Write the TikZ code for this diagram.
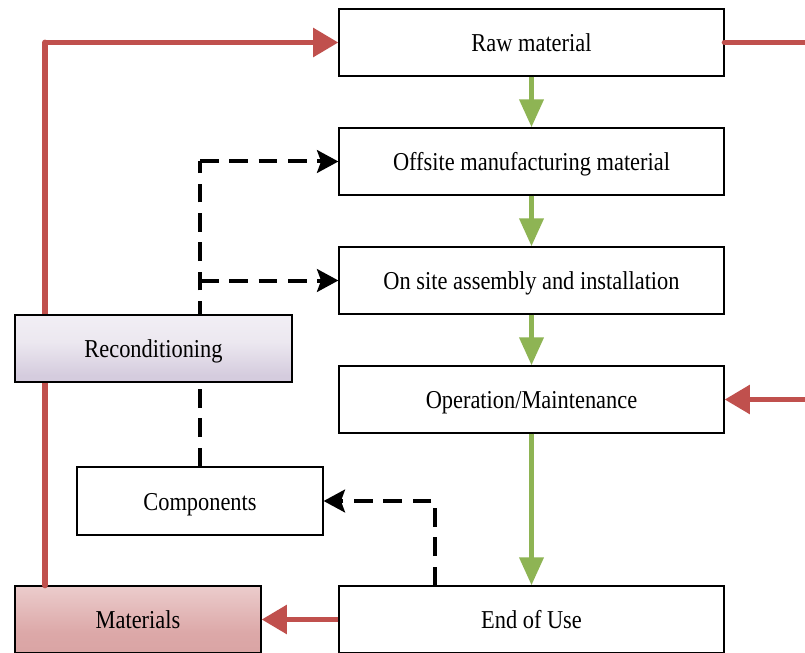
\documentclass[tikz,border=0pt]{standalone}
\usepackage{fontspec}
\setmainfont{Liberation Serif}
\usetikzlibrary{arrows.meta,calc}
\definecolor{redline}{RGB}{192,80,77}
\definecolor{greenline}{RGB}{142,180,84}
\definecolor{recA}{RGB}{236,232,240}
\definecolor{recB}{RGB}{213,204,222}
\definecolor{recC}{RGB}{236,232,240}
\definecolor{recD}{RGB}{248,246,250}
\definecolor{matA}{RGB}{214,158,158}
\definecolor{matB}{RGB}{220,168,168}
\definecolor{matC}{RGB}{246,230,230}
\pgfdeclareverticalshading{recshade}{100bp}{color(0bp)=(recA); color(18bp)=(recB); color(30bp)=(recB); color(55bp)=(recC); color(100bp)=(recD)}
\pgfdeclareverticalshading{matshade}{100bp}{color(0bp)=(matA); color(40bp)=(matB); color(100bp)=(matC)}
\newcommand{\stretchtxt}[1]{\scalebox{1}[1.15]{#1}}
\tikzset{
  box/.style={draw=black, line width=0.9pt, fill=white, inner sep=0pt, text height=14.2pt, text depth=0pt, font=\fontsize{16.8}{20}\selectfont},
  bigbox/.style={box, minimum width=288.75pt, minimum height=50.25pt},
  redarrow/.style={draw=redline, line width=4.4pt, -{Triangle[length=19pt,width=21pt]}},
  redline/.style={draw=redline, line width=4.4pt, line cap=round},
  greenarrow/.style={draw=greenline, line width=4.2pt, -{Triangle[length=21pt,width=17.5pt]}},
  dasharrow/.style={draw=black, line width=3pt, dash pattern=on 14pt off 8pt, -{Stealth[length=16pt,width=17pt,inset=3pt]}},
  dashline/.style={draw=black, line width=3pt, dash pattern=on 14pt off 8pt}
}
\begin{document}
\begin{tikzpicture}[x=0.75pt,y=-0.75pt]
\useasboundingbox (0,0) rectangle (805,652);
\fill[white] (0,0) rectangle (805,652);
% coordinates
\coordinate (rtop) at (805,42.5);
\coordinate (rmid) at (805,399.5);
% main boxes
\node[bigbox] (raw) at (531.5,42.5) {\stretchtxt{Raw material}};
\node[bigbox] (off) at (531.5,161.5) {\stretchtxt{Offsite manufacturing material}};
\node[bigbox] (on) at (531.5,280.5) {\stretchtxt{On site assembly and installation}};
\node[bigbox] (op) at (531.5,399.5) {\stretchtxt{Operation/Maintenance}};
\node[bigbox] (eou) at (531.5,619.5) {\stretchtxt{End of Use}};
\node[box, minimum width=184.5pt, minimum height=51pt] (comp) at (200,501) {\stretchtxt{Components}};
% dashed connectors (behind reconditioning)
\coordinate (dtop) at (200,161.5);
\coordinate (dmid) at (200,280.5);
\coordinate (dcorner) at (435,501);
\draw[dashline] (comp.north) -- (dtop);
\draw[dasharrow] (dtop) -- (off.west);
\draw[dasharrow] (dmid) -- (on.west);
\draw[dasharrow] (eou.north -| dcorner) -- (dcorner) -- (comp.east);
% red left line (behind reconditioning)
\coordinate (rleft) at (45,42.5);
\node[box, minimum width=184.5pt, minimum height=50.25pt, shading=matshade] (mat) at (138,619.5) {\stretchtxt{Materials}};
\draw[redline] ($(mat.north)+(-93,0)$) -- (rleft);
\draw[redarrow] (rleft) -- (raw.west);
\node[box, minimum width=207.75pt, minimum height=50.25pt, shading=recshade] (rec) at (153.5,348.5) {\stretchtxt{Reconditioning}};
% green arrows
\draw[greenarrow] (raw.south) -- (off.north);
\draw[greenarrow] (off.south) -- (on.north);
\draw[greenarrow] (on.south) -- (op.north);
\draw[greenarrow] (op.south) -- (eou.north);
% red right
\draw[redline] (raw.east) -- (rtop);
\draw[redarrow] (rmid) -- (op.east);
\draw[redarrow] (eou.west) -- (mat.east);
\end{tikzpicture}
\end{document}
